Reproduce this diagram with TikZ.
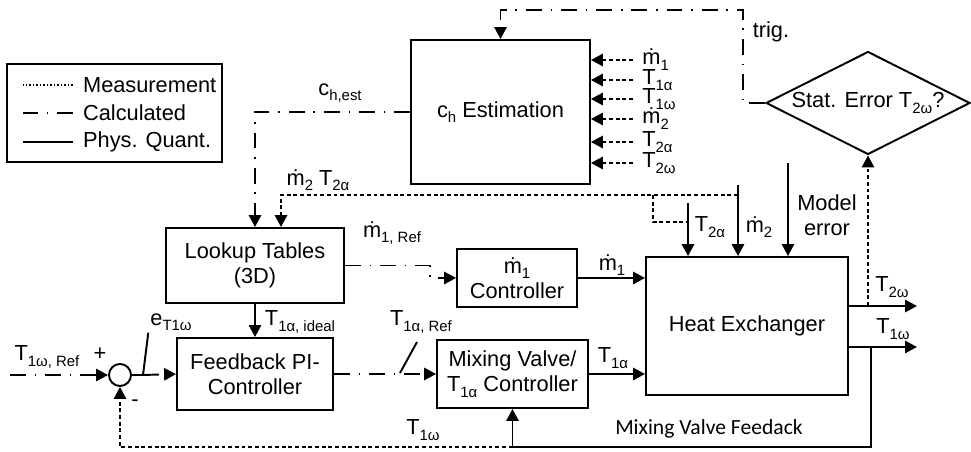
\documentclass[tikz,border=0pt]{standalone}
\usepackage{fontspec}
\setmainfont{Liberation Sans}
\newfontfamily\calibrifont{Carlito}
\usetikzlibrary{arrows.meta,positioning,shapes.geometric,calc}
\newcommand{\sbs}[1]{\raisebox{-0.45ex}{\fontsize{8.5}{9}\selectfont #1}}
\newcommand{\md}{\.m}
\tikzset{
 box/.style={draw,line width=1.1pt,align=center,inner sep=2pt},
 arrow/.style={-{Triangle[length=6.8pt,width=7pt]}},
 physline/.style={line width=1.1pt},
 measline/.style={line width=1.1pt,dash pattern=on 2.2pt off 1.6pt},
 calcline/.style={line width=1.1pt,dash pattern=on 9pt off 5pt on 1pt off 5pt},
 lbl/.style={inner sep=1pt},
}

\begin{document}
\begin{tikzpicture}[x=0.02cm,y=-0.02cm,font=\fontsize{12.4}{14.5}\selectfont]
\useasboundingbox (0,0) rectangle (971,452);
% legend
\node[draw,line width=1.3pt,minimum width=4.3cm,minimum height=1.96cm] (legend) at (114.5,113) {};
\node[lbl,anchor=west] (lgm) at (81,85) {Measurement};
\node[lbl,anchor=west] (lgc) at (81,113) {Calculated};
\node[lbl,anchor=west] (lgp) at (81,142) {Phys. Quant.};
\draw[line width=0.6pt,dash pattern=on 1pt off 1pt] ([xshift=-0.16cm]lgm.west) -- ++(-50,0);
\draw[calcline] ([xshift=-0.16cm]lgc.west) -- ++(-50,0);
\draw[line width=0.8pt] ([xshift=-0.16cm]lgp.west) -- ++(-50,0);

% blocks
\node[box,minimum width=3.58cm,minimum height=2.88cm] (est) at (500.5,112) {c\sbs{h} Estimation};
\node[box,minimum width=4.04cm,minimum height=2.76cm] (hx) at (747,326) {Heat Exchanger};
\node[box,minimum width=3.56cm,minimum height=1.5cm] (lut) at (255,265.5) {Lookup Tables\\(3D)};
\node[box,minimum width=2.4cm,minimum height=1.16cm] (mc) at (517,278) {\md\sbs{1}\\Controller};
\node[box,minimum width=3.12cm,minimum height=1.44cm] (pi) at (255,374) {Feedback PI-\\Controller};
\node[box,minimum width=3.02cm,minimum height=1.36cm] (mv) at (512.5,374) {Mixing Valve/\\T\sbs{1α} Controller};
\node[diamond,draw,line width=1.1pt,aspect=2,inner sep=0pt,minimum width=4.08cm,minimum height=2.06cm] (stat) at (868,103) {Stat. Error T\sbs{2ω}?};
\node[circle,draw,line width=1.1pt,minimum size=0.44cm,inner sep=0pt] (sum) at (120,375) {};

% measured inputs of the estimation
\foreach \y/\lab [count=\i] in {60/\md\sbs{1},80/T\sbs{1α},99/T\sbs{1ω},119/\md\sbs{2},142/T\sbs{2α},163/T\sbs{2ω}}{
  \coordinate (src\i) at (633,\y);
  \node[inner sep=0pt,anchor=base west] (in\i) at (642,\y+5) {\lab};
  \draw[measline,arrow] (src\i) -- (est.east |- src\i);
}

% trigger
\coordinate (trg) at (743,10);
\draw[calcline,arrow] (stat.west) -| (trg) -| (est.north);
\node[lbl] (trig) at (771,32) {trig.};

% heat exchanger outputs
\coordinate (t2wend) at (917,306);
\coordinate (t1wend) at (917,347);
\coordinate (t2wtap) at (stat.south |- t2wend);
\coordinate (t1wtap) at (871,347);
\coordinate (fbrow) at (0,447);
\draw[physline,arrow] (hx.east |- t2wend) -- (t2wend);
\draw[physline,arrow] (hx.east |- t1wend) -- (t1wend);
\draw[measline,arrow] (t2wtap) -- (stat.south);
\draw[physline,arrow] (t1wtap) |- (mv.south |- fbrow) -- (mv.south);
\draw[measline,arrow] (mv.south |- fbrow) -| (sum.south);
\node[lbl] at (892,287) {T\sbs{2ω}};
\node[lbl] at (893,329) {T\sbs{1ω}};
\node[lbl] at (423,430) {T\sbs{1ω}};
\node[lbl,font=\calibrifont\fontsize{12.3}{14}\selectfont] at (709,429) {Mixing Valve Feedack};

% heat exchanger inputs from above
\coordinate (me) at (788,163);
\coordinate (m2top) at (738,185);
\coordinate (t2atop) at (688,203);
\coordinate (t2atap) at (688,222);
\coordinate (m2tap) at (738,195);
\coordinate (t2abr) at (653,195);
\coordinate (lutin) at (281,195);
\draw[physline,arrow] (me) -- (me |- hx.north);
\draw[physline,arrow] (m2top) -- (m2top |- hx.north);
\draw[physline,arrow] (t2atop) -- (t2atop |- hx.north);
\draw[measline,arrow] (m2tap) -- (lutin) -- (lutin |- lut.north);
\draw[measline] (t2abr) |- (t2atap);
\node[lbl] at (710,227) {T\sbs{2α}};
\node[lbl] at (759,227) {\md\sbs{2}};
\node[lbl,align=center] at (827,215) {Model\\error};
\node[lbl] at (318,180) {\md\sbs{2} T\sbs{2α}};

% estimation and lookup
\draw[calcline,arrow] (est.west) -| (lut.north);
\node[lbl] at (340,93) {c\sbs{h,est}};
\coordinate (mref) at (430,265.5);
\draw[calcline,arrow] (lut.east) -- (mref) |- (mc.west);
\node[lbl] at (392,233) {\md\sbs{1, Ref}};
\draw[physline,arrow] (mc.east) -- (mc.east -| hx.west);
\node[lbl] at (612,265) {\md\sbs{1}};
\draw[physline,arrow] (lut.south) -- (pi.north);
\node[lbl] at (300,322) {T\sbs{1α, ideal}};

% control loop
\coordinate (refin) at (10,375);
\coordinate (ej) at (143,375);
\draw[calcline,arrow] (refin) -- (sum.west);
\node[lbl] at (47,357) {T\sbs{1ω, Ref}};
\node[lbl] at (100,354) {+};
\node[lbl] at (135,403) {-};
\node[lbl] (eerr) at (171,322) {e\sbs{T1ω}};
\draw[physline] (sum.east) -- (ej) -- (eerr.south west);
\draw[calcline,arrow] (ej) -- (pi.west);
\draw[calcline,arrow] (pi.east) -- (mv.west);
\draw[physline] (400,373) -- (417,342);
\node[lbl] at (421,322) {T\sbs{1α, Ref}};
\draw[physline,arrow] (mv.east) -- (mv.east -| hx.west);
\node[lbl] at (613,358) {T\sbs{1α}};
\end{tikzpicture}
\end{document}
